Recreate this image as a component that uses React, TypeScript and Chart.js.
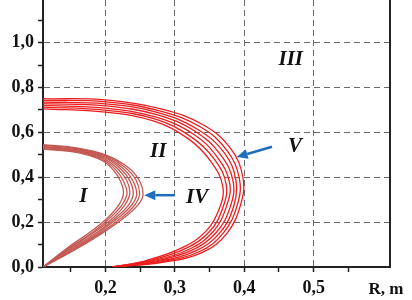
import React, { useEffect, useRef } from "react";
import { Chart, registerables } from "chart.js";
Chart.register(...registerables);

// Axis ticks
const xMajorTicks = [0.2, 0.3, 0.4, 0.5];
const xMinorTicks = [0.15, 0.25, 0.35, 0.45, 0.55];
const yMajorTicks = [0, 0.2, 0.4, 0.6, 0.8, 1.0];
const yMinorTicks = [0.1, 0.3, 0.5, 0.7, 0.9, 1.1];
const xRange = [0.11, 0.61];
const yRange = [0, 1.19];

// Zone I boundary curves (R, Z), inner -> outer
const zoneI_1 = [[0.11,0.525],[0.16,0.51],[0.195,0.475],[0.212,0.43],[0.222,0.38],[0.226,0.33],[0.22,0.28],[0.205,0.225],[0.18,0.16],[0.145,0.085],[0.11,0]];
const zoneI_2 = [[0.11,0.528],[0.16,0.513],[0.196,0.479],[0.215,0.433],[0.226,0.382],[0.231,0.328],[0.224,0.278],[0.208,0.223],[0.183,0.158],[0.147,0.083],[0.11,0]];
const zoneI_3 = [[0.11,0.532],[0.16,0.517],[0.197,0.483],[0.218,0.437],[0.231,0.383],[0.235,0.327],[0.228,0.277],[0.212,0.222],[0.185,0.157],[0.148,0.082],[0.11,0]];
const zoneI_4 = [[0.11,0.535],[0.16,0.52],[0.198,0.488],[0.221,0.44],[0.235,0.385],[0.24,0.325],[0.233,0.275],[0.215,0.22],[0.188,0.155],[0.15,0.08],[0.11,0]];
const zoneI_5 = [[0.11,0.538],[0.16,0.523],[0.198,0.492],[0.224,0.443],[0.239,0.387],[0.245,0.323],[0.237,0.273],[0.218,0.218],[0.19,0.153],[0.152,0.078],[0.11,0]];
const zoneI_6 = [[0.11,0.542],[0.16,0.527],[0.199,0.496],[0.227,0.447],[0.244,0.388],[0.249,0.322],[0.241,0.272],[0.222,0.217],[0.193,0.152],[0.153,0.077],[0.11,0]];
const zoneI_7 = [[0.11,0.545],[0.16,0.53],[0.2,0.5],[0.23,0.45],[0.248,0.39],[0.254,0.32],[0.245,0.27],[0.225,0.215],[0.195,0.15],[0.155,0.075],[0.11,0]];

// Zone II boundary curves (R, Z), inner -> outer
const zoneII_1 = [[0.11,0.705],[0.2,0.69],[0.27,0.65],[0.32,0.57],[0.352,0.47],[0.369,0.36],[0.364,0.26],[0.345,0.16],[0.31,0.085],[0.26,0.03],[0.21,0]];
const zoneII_2 = [[0.11,0.713],[0.2,0.699],[0.272,0.659],[0.323,0.581],[0.357,0.48],[0.374,0.367],[0.369,0.263],[0.35,0.158],[0.315,0.082],[0.263,0.028],[0.21,0]];
const zoneII_3 = [[0.11,0.72],[0.2,0.708],[0.273,0.668],[0.327,0.592],[0.361,0.49],[0.379,0.373],[0.374,0.267],[0.355,0.157],[0.32,0.078],[0.267,0.027],[0.21,0]];
const zoneII_4 = [[0.11,0.728],[0.2,0.718],[0.275,0.678],[0.33,0.603],[0.366,0.5],[0.384,0.38],[0.38,0.27],[0.36,0.155],[0.325,0.075],[0.27,0.025],[0.21,0]];
const zoneII_5 = [[0.11,0.735],[0.2,0.727],[0.277,0.687],[0.333,0.613],[0.371,0.51],[0.388,0.387],[0.385,0.273],[0.365,0.153],[0.33,0.072],[0.273,0.023],[0.21,0]];
const zoneII_6 = [[0.11,0.743],[0.2,0.736],[0.278,0.696],[0.337,0.624],[0.375,0.52],[0.393,0.393],[0.39,0.277],[0.37,0.152],[0.335,0.068],[0.277,0.022],[0.21,0]];
const zoneII_7 = [[0.11,0.75],[0.2,0.745],[0.28,0.705],[0.34,0.635],[0.38,0.53],[0.398,0.4],[0.395,0.28],[0.375,0.15],[0.34,0.065],[0.28,0.02],[0.21,0]];

const zoneICurves = [zoneI_1, zoneI_2, zoneI_3, zoneI_4, zoneI_5, zoneI_6, zoneI_7];
const zoneIICurves = [zoneII_1, zoneII_2, zoneII_3, zoneII_4, zoneII_5, zoneII_6, zoneII_7];

// Region labels and arrows (data coordinates)
const regionLabels = ["I", "II", "III", "IV", "V"];
const regionLabelR = [0.168, 0.276, 0.467, 0.332, 0.473];
const regionLabelZ = [0.313, 0.513, 0.924, 0.308, 0.536];
const arrowFrom = [[0.3, 0.32], [0.44, 0.536]];
const arrowTo = [[0.256, 0.32], [0.389, 0.49]];

const SERIF = '"Liberation Serif", "Times New Roman", serif';
const isIn = (arr: number[], v: number) => arr.some((a) => Math.abs(a - v) < 1e-6);
const fmt = (v: number) => v.toFixed(1).replace(".", ",");

const overlay = {
  id: "overlay",
  afterDatasetsDraw(chart: any) {
    const { ctx, chartArea, scales } = chart;
    const x = scales.x, y = scales.y;
    ctx.save();
    // right frame line
    ctx.strokeStyle = "#222";
    ctx.lineWidth = 2;
    ctx.beginPath();
    ctx.moveTo(chartArea.right, chartArea.top);
    ctx.lineTo(chartArea.right, chartArea.bottom);
    ctx.stroke();
    // arrows
    ctx.strokeStyle = "#1f6ebe";
    ctx.fillStyle = "#1f6ebe";
    ctx.lineWidth = 2.5;
    arrowFrom.forEach((f, i) => {
      const x0 = x.getPixelForValue(f[0]), y0 = y.getPixelForValue(f[1]);
      const x1 = x.getPixelForValue(arrowTo[i][0]), y1 = y.getPixelForValue(arrowTo[i][1]);
      const ang = Math.atan2(y1 - y0, x1 - x0);
      const hl = 11, hw = 5;
      const bx = x1 - hl * Math.cos(ang), by = y1 - hl * Math.sin(ang);
      ctx.beginPath();
      ctx.moveTo(x0, y0);
      ctx.lineTo(bx, by);
      ctx.stroke();
      ctx.beginPath();
      ctx.moveTo(x1, y1);
      ctx.lineTo(bx + hw * Math.sin(ang), by - hw * Math.cos(ang));
      ctx.lineTo(bx - hw * Math.sin(ang), by + hw * Math.cos(ang));
      ctx.closePath();
      ctx.fill();
    });
    // region labels
    ctx.fillStyle = "#111";
    ctx.font = `italic bold 21px ${SERIF}`;
    ctx.textAlign = "center";
    ctx.textBaseline = "middle";
    regionLabels.forEach((t, i) => {
      ctx.fillText(t, x.getPixelForValue(regionLabelR[i]), y.getPixelForValue(regionLabelZ[i]));
    });
    // axis title
    ctx.font = `bold 17px ${SERIF}`;
    ctx.textAlign = "center";
    ctx.textBaseline = "alphabetic";
    ctx.fillText("R, m", chartArea.right - 4, chartArea.bottom + 27);
    ctx.restore();
  },
};

export default function App() {
  const ref = useRef<HTMLCanvasElement>(null);
  useEffect(() => {
    document.body.style.margin = "0";
    const datasets: any[] = [];
    zoneICurves.forEach((c) =>
      datasets.push({
        data: c.map((p) => ({ x: p[0], y: p[1] })),
        borderColor: "rgb(196,88,82)",
        borderWidth: 1.3,
        showLine: true,
        pointRadius: 0,
        tension: 0.4,
        fill: false,
      })
    );
    zoneIICurves.forEach((c) =>
      datasets.push({
        data: c.map((p) => ({ x: p[0], y: p[1] })),
        borderColor: "rgb(235,30,30)",
        borderWidth: 1.3,
        showLine: true,
        pointRadius: 0,
        tension: 0.4,
        fill: false,
      })
    );
    const xTicks = [...xMajorTicks, ...xMinorTicks].sort((a, b) => a - b);
    const yTicks = [...yMajorTicks, ...yMinorTicks].sort((a, b) => a - b);
    const chart = new Chart(ref.current!, {
      type: "scatter",
      data: { datasets },
      plugins: [overlay],
      options: {
        responsive: false,
        animation: false,
        layout: { padding: { top: 0, right: 22, left: 0, bottom: 0 } },
        plugins: { legend: { display: false }, tooltip: { enabled: false } },
        scales: {
          x: {
            type: "linear",
            min: xRange[0],
            max: xRange[1],
            afterBuildTicks: (s: any) => {
              s.ticks = xTicks.map((v) => ({ value: v }));
            },
            afterFit: (s: any) => {
              s.height = 33;
              s.paddingLeft = 0;
              s.paddingRight = 0;
            },
            ticks: {
              autoSkip: false,
              maxRotation: 0,
              padding: 6,
              color: "#111",
              font: { family: SERIF, size: 18, weight: "bold" },
              callback: (v: any) => (isIn(xMajorTicks, Number(v)) ? fmt(Number(v)) : ""),
            },
            grid: {
              color: (c: any) => (c.tick && isIn(xMajorTicks, c.tick.value) ? "#6a6a6a" : "rgba(0,0,0,0)"),
              lineWidth: 1,
              tickLength: 5,
              tickColor: "#222",
              tickWidth: 1.5,
              tickBorderDash: [],
            },
            border: { display: true, color: "#222", width: 2, dash: [6, 4] },
          },
          y: {
            type: "linear",
            min: yRange[0],
            max: yRange[1],
            afterBuildTicks: (s: any) => {
              s.ticks = yTicks.map((v) => ({ value: v }));
            },
            afterFit: (s: any) => {
              s.width = 43;
              s.paddingTop = 0;
              s.paddingBottom = 0;
            },
            ticks: {
              autoSkip: false,
              padding: 4,
              color: "#111",
              font: { family: SERIF, size: 18, weight: "bold" },
              callback: (v: any) => (isIn(yMajorTicks, Number(v)) ? fmt(Number(v)) : ""),
            },
            grid: {
              color: (c: any) => (c.tick && isIn(yMajorTicks, c.tick.value) && c.tick.value > 0 ? "#6a6a6a" : "rgba(0,0,0,0)"),
              lineWidth: 1,
              tickLength: 5,
              tickColor: "#222",
              tickWidth: 1.5,
              tickBorderDash: [],
            },
            border: { display: true, color: "#222", width: 2, dash: [6, 4] },
          },
        },
      },
    });
    return () => chart.destroy();
  }, []);
  return (
    <div style={{ width: 412, height: 300 }}>
      <canvas ref={ref} width={412} height={300} style={{ display: "block" }} />
    </div>
  );
}
